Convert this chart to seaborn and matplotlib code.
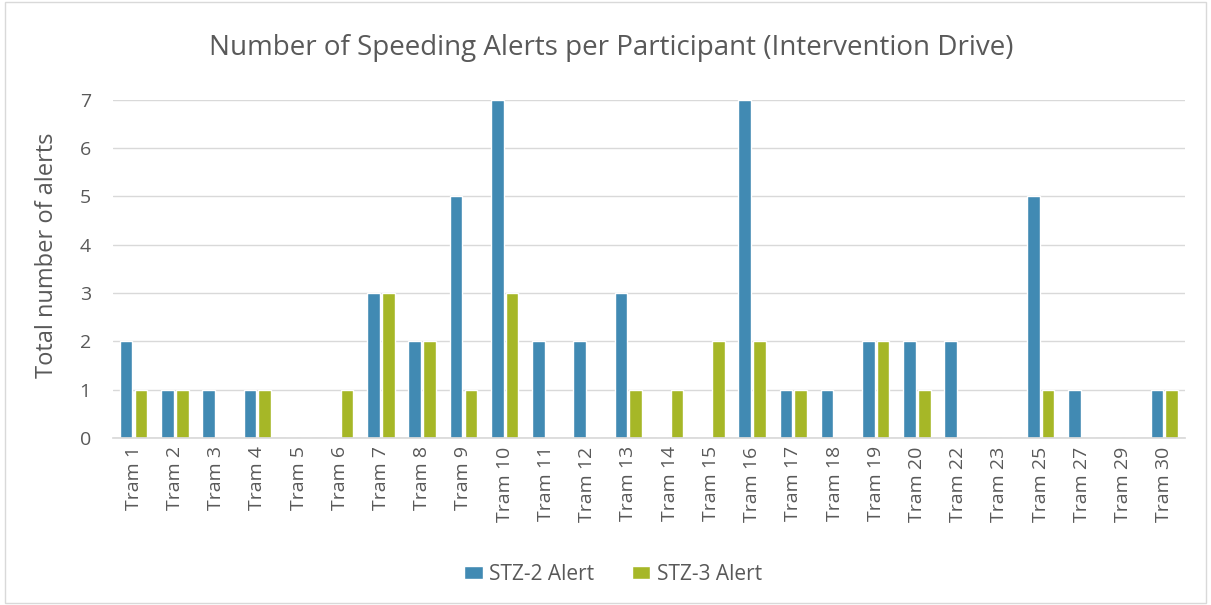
import matplotlib
matplotlib.use("Agg")
import matplotlib.pyplot as plt
import seaborn as sns
import pandas as pd
from matplotlib.patches import Rectangle

# === DATA ===
participants = ["Tram 1", "Tram 2", "Tram 3", "Tram 4", "Tram 5", "Tram 6", "Tram 7",
                "Tram 8", "Tram 9", "Tram 10", "Tram 11", "Tram 12", "Tram 13", "Tram 14",
                "Tram 15", "Tram 16", "Tram 17", "Tram 18", "Tram 19", "Tram 20", "Tram 22",
                "Tram 23", "Tram 25", "Tram 27", "Tram 29", "Tram 30"]
stz2_alerts = [2, 1, 1, 1, 0, 0, 3, 2, 5, 7, 2, 2, 3, 0, 0, 7, 1, 1, 2, 2, 2, 0, 5, 1, 0, 1]
stz3_alerts = [1, 1, 0, 1, 0, 1, 3, 2, 1, 3, 0, 0, 1, 1, 2, 2, 1, 0, 2, 1, 0, 0, 1, 0, 0, 1]

df = pd.DataFrame({
    "Participant": participants * 2,
    "Alerts": stz2_alerts + stz3_alerts,
    "Type": ["STZ-2 Alert"] * len(participants) + ["STZ-3 Alert"] * len(participants),
})

palette = {"STZ-2 Alert": "#418AB3", "STZ-3 Alert": "#A6B727"}
text_col = "#595959"

sns.set_theme(style="white")
plt.rcParams["font.family"] = ["Open Sans", "DejaVu Sans"]

fig = plt.figure(figsize=(12.11, 6.05), dpi=100)
ax = fig.add_axes([0.0933, 0.276, 0.8852, 0.559])

sns.barplot(data=df, x="Participant", y="Alerts", hue="Type", palette=palette,
            width=0.72, gap=0.15, saturation=1, ax=ax, legend=True)

ax.set_ylim(0, 7)
ax.set_yticks(range(0, 8))
ax.yaxis.grid(True, color="#D9D9D9", linewidth=1)
ax.set_axisbelow(True)
for side in ["left", "right", "top"]:
    ax.spines[side].set_visible(False)
ax.spines["bottom"].set_color("#D9D9D9")
ax.set_xlim(-0.5, len(participants) - 0.5)

ax.tick_params(axis="x", labelrotation=90, labelsize=14, colors=text_col, length=0, pad=6)
ax.tick_params(axis="y", labelsize=14, colors=text_col, length=0, pad=16)
ax.set_xlabel("")
ax.set_ylabel("Total number of alerts", fontsize=17, color=text_col)
ax.yaxis.set_label_coords(-0.05, 0.54)

fig.suptitle("Number of Speeding Alerts per Participant (Intervention Drive)",
             x=0.505, y=0.943, fontsize=20, color=text_col)

handles, labels = ax.get_legend_handles_labels()
ax.get_legend().remove()
leg = fig.legend(handles, labels, loc="center", bbox_to_anchor=(0.506, 0.051), ncol=2,
                 frameon=False, fontsize=15, handlelength=0.9, handleheight=0.6,
                 columnspacing=1.8, handletextpad=0.3)
for t in leg.get_texts():
    t.set_color(text_col)

fig.patches.append(Rectangle((0.004, 0.004), 0.992, 0.992, transform=fig.transFigure,
                             fill=False, edgecolor="#D9D9D9", linewidth=1))

fig.savefig("out.png", dpi=100)
